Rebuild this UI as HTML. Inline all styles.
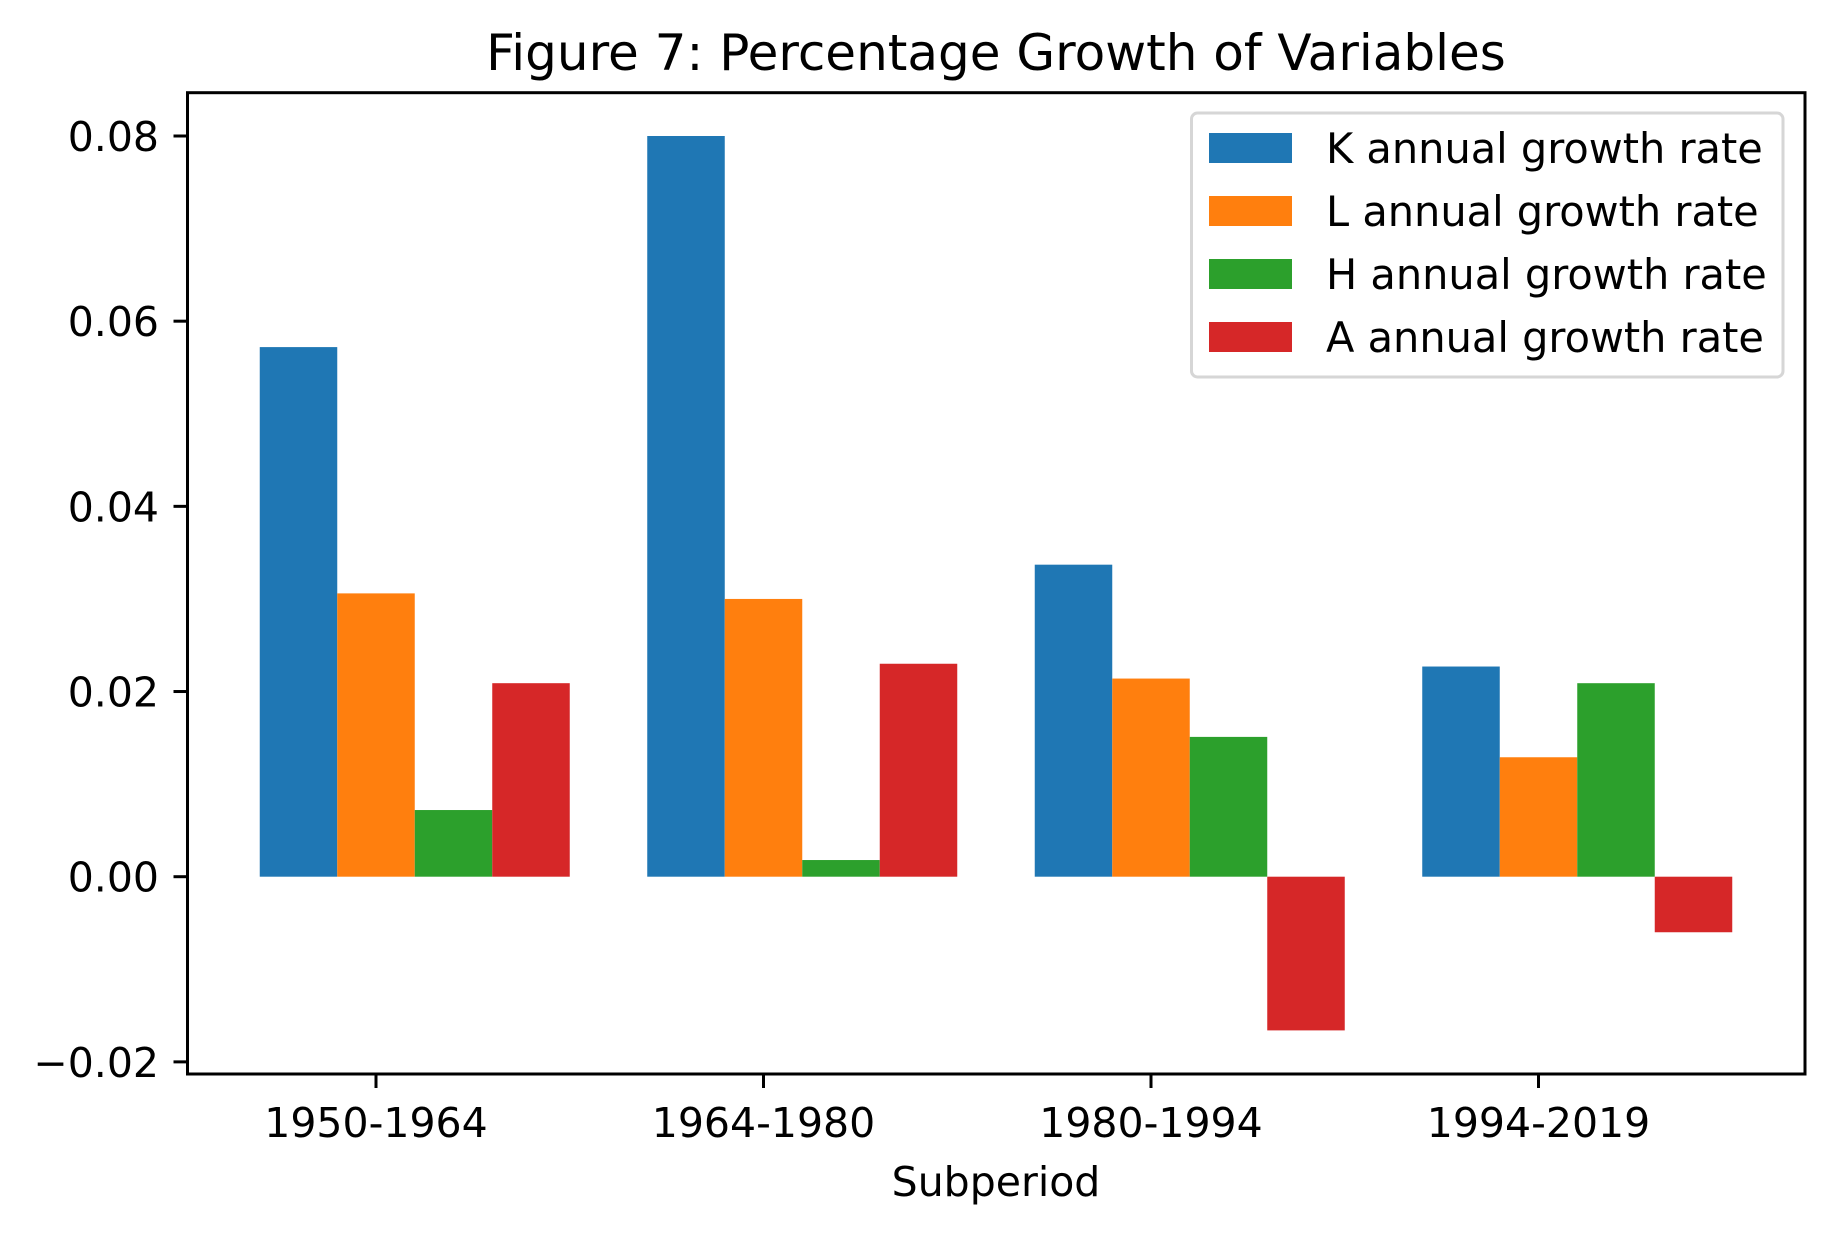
<!DOCTYPE html>
<html><head><meta charset="utf-8">
<style>
html,body{margin:0;padding:0;background:#fff;}
svg{display:block;font-family:"DejaVu Sans","Liberation Sans",sans-serif;}
</style></head>
<body>
<svg id="chart" width="1834" height="1234" viewBox="0 0 1834 1234" xmlns="http://www.w3.org/2000/svg">
<rect width="1834" height="1234" fill="#fff"/>
<text x="996" y="70" font-size="50" text-anchor="middle">Figure 7: Percentage Growth of Variables</text>
<g id="bars"></g>
<g id="yaxis"></g>
<g id="xaxis"></g>
<rect x="187.5" y="92.7" width="1617.5" height="981.3" fill="none" stroke="#000" stroke-width="3"/>
<text x="996" y="1196" font-size="41" text-anchor="middle">Subperiod</text>
<g id="legend"></g>
</svg>
<script>
const categories = ["1950-1964", "1964-1980", "1980-1994", "1994-2019"];
const seriesNames = ["K annual growth rate", "L annual growth rate", "H annual growth rate", "A annual growth rate"];
const kValues = [0.0572, 0.0800, 0.0337, 0.0227];
const lValues = [0.0306, 0.0300, 0.0214, 0.0129];
const hValues = [0.0072, 0.0018, 0.0151, 0.0209];
const aValues = [0.0209, 0.0230, -0.0166, -0.0060];
const yTicks = [-0.02, 0.00, 0.02, 0.04, 0.06, 0.08];
const yTickLabels = ["\u22120.02", "0.00", "0.02", "0.04", "0.06", "0.08"];
const colors = ["#1f77b4", "#ff7f0e", "#2ca02c", "#d62728"];

const NS = "http://www.w3.org/2000/svg";
const series = [kValues, lValues, hValues, aValues];
function yScale(v){ return 876.7 - v * (740.7 / 0.08); }
const barW = 77.5, groupStep = 387.5, firstTick = 376;
function xScale(i){ return firstTick + i * groupStep; }
function mk(tag, attrs, parent){
  const el = document.createElementNS(NS, tag);
  for (const k in attrs) el.setAttribute(k, attrs[k]);
  parent.appendChild(el);
  return el;
}
const bars = document.getElementById('bars');
series.forEach((vals, s) => {
  vals.forEach((v, i) => {
    const cx = xScale(i) + (s - 1) * barW;
    const y0 = yScale(0), y1 = yScale(v);
    const r = mk('rect', {x: cx - barW/2, y: Math.min(y0, y1), width: barW, height: Math.abs(y1 - y0), fill: colors[s]}, bars);
    
    
  });
});
const yaxis = document.getElementById('yaxis');
yTicks.forEach((t, i) => {
  const y = yScale(t);
  const l = mk('line', {x1: 173.5, x2: 187.5, y1: y, y2: y, stroke: '#000', 'stroke-width': 3}, yaxis);
  
  
  const tx = mk('text', {x: 159, y: y + 15, 'font-size': 41, 'text-anchor': 'end'}, yaxis);
  tx.textContent = yTickLabels[i];
  
  
});
const xaxis = document.getElementById('xaxis');
categories.forEach((c, i) => {
  const x = xScale(i);
  const l = mk('line', {x1: x, x2: x, y1: 1074, y2: 1088, stroke: '#000', 'stroke-width': 3}, xaxis);
  
  
  const tx = mk('text', {x: x, y: 1137, 'font-size': 41, 'text-anchor': 'middle'}, xaxis);
  tx.textContent = c;
  
  
});
const legend = document.getElementById('legend');
const box = mk('rect', {x: 1191.5, y: 113, width: 591.5, height: 264, rx: 6, fill: '#fff', 'fill-opacity': 0.8, stroke: '#d6d6d6', 'stroke-width': 3}, legend);


seriesNames.forEach((n, s) => {
  const y = 133 + s * 63;
  const g = mk('g', {}, legend);
  
  
  mk('rect', {x: 1209, y: y, width: 83, height: 30, fill: colors[s]}, g);
  const tx = mk('text', {x: 1326, y: y + 30, 'font-size': 41.5}, g);
  tx.textContent = n;
});
</script>
</body></html>
